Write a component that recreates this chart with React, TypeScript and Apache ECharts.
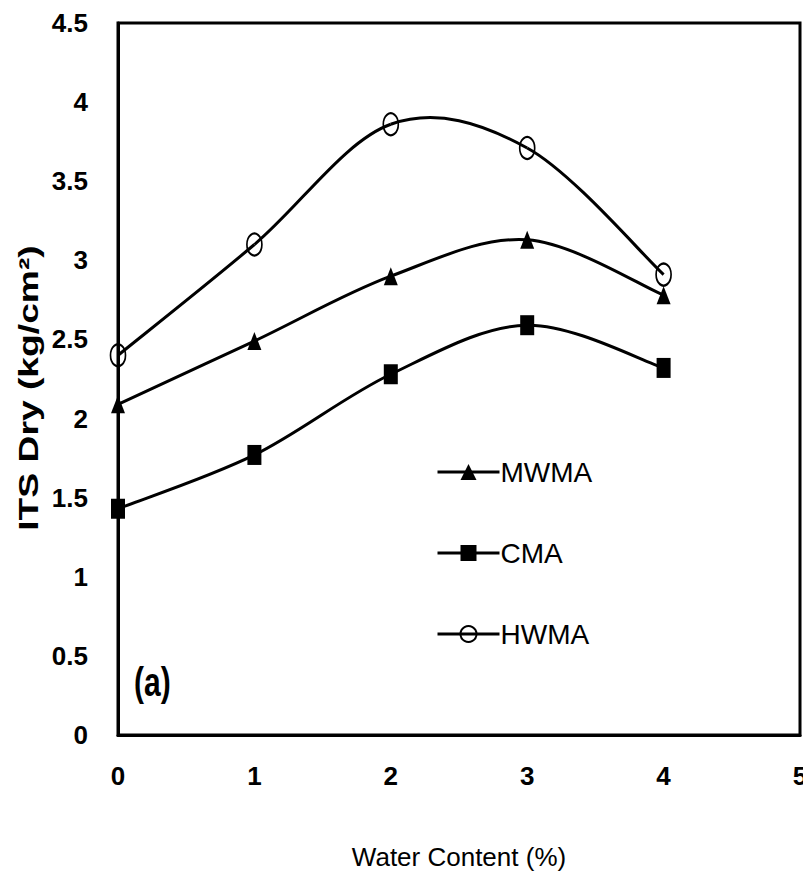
import React, { useEffect, useRef } from "react";
import * as echarts from "echarts";

const xValues = [0, 1, 2, 3, 4];
const mwma = [2.09, 2.49, 2.9, 3.13, 2.78];
const cma = [1.43, 1.77, 2.28, 2.59, 2.32];
const hwma = [2.4, 3.1, 3.86, 3.71, 2.91];
const seriesNames = ["MWMA", "CMA", "HWMA"];

const FONT = "'Liberation Sans Narrow', 'Liberation Sans', Arial, sans-serif";

export default function App() {
  const ref = useRef<HTMLDivElement>(null);
  useEffect(() => {
    if (!ref.current) return;
    const chart = echarts.init(ref.current, undefined, { renderer: "svg" });
    const pair = (arr: number[]) => xValues.map((x, i) => [x, arr[i]]);

    const curve = (name: string, arr: number[]) => ({
      name: name + " curve",
      type: "custom",
      z: 1,
      silent: true,
      data: pair(arr),
      encode: { x: 0, y: 1 },
      renderItem: (params: any, api: any) => {
        const i = params.dataIndex;
        const n = arr.length;
        if (i >= n - 1) return { type: "group", children: [] };
        const p = (k: number) => api.coord([xValues[k], arr[k]]);
        const P0 = p(Math.max(i - 1, 0));
        const P1 = p(i);
        const P2 = p(i + 1);
        const P3 = p(Math.min(i + 2, n - 1));
        const t = 1 / 6;
        return {
          type: "bezierCurve",
          shape: {
            x1: P1[0],
            y1: P1[1],
            cpx1: P1[0] + (P2[0] - P0[0]) * t,
            cpy1: P1[1] + (P2[1] - P0[1]) * t,
            cpx2: P2[0] - (P3[0] - P1[0]) * t,
            cpy2: P2[1] - (P3[1] - P1[1]) * t,
            x2: P2[0],
            y2: P2[1],
          },
          style: { stroke: "#000", lineWidth: 3, fill: "none" },
        };
      },
    });

    const hiddenLine = { color: "#000", width: 3, opacity: 0 };

    chart.setOption({
      animation: false,
      backgroundColor: "#fff",
      textStyle: { fontFamily: FONT },
      grid: {
        left: 118,
        right: 3,
        top: 23,
        bottom: 147,
        outerBoundsMode: "none",
        containLabel: false,
        show: true,
        borderColor: "#000",
        borderWidth: 3,
        backgroundColor: "transparent",
      },
      legend: {
        orient: "vertical",
        left: 431,
        top: 453,
        itemWidth: 62,
        itemHeight: 20,
        itemGap: 53,
        data: seriesNames,
        lineStyle: { width: 3, color: "#000", opacity: 1 },
        textStyle: { fontFamily: FONT, fontSize: 28, color: "#000", padding: [0, 0, 0, -4] },
      },
      xAxis: {
        type: "value",
        min: 0,
        max: 5,
        interval: 1,
        name: "Water Content (%)",
        nameLocation: "middle",
        nameGap: 109,
        nameTextStyle: { fontFamily: FONT, fontSize: 26, color: "#000" },
        axisLine: { show: true, lineStyle: { color: "#000", width: 3 } },
        axisTick: { show: false },
        splitLine: { show: false },
        axisLabel: { margin: 28, fontSize: 26, fontWeight: "bold", color: "#000", fontFamily: FONT },
      },
      yAxis: {
        type: "value",
        min: 0,
        max: 4.5,
        interval: 0.5,
        axisLine: { show: true, lineStyle: { color: "#000", width: 3 } },
        axisTick: { show: false },
        splitLine: { show: false },
        axisLabel: { margin: 30, fontSize: 26, fontWeight: "bold", color: "#000", fontFamily: FONT },
      },
      graphic: [
        {
          type: "text",
          x: 29,
          y: 388,
          rotation: Math.PI / 2,
          scaleX: 1.38,
          style: {
            text: "ITS Dry (kg/cm²)",
            fontFamily: FONT,
            fontSize: 27,
            fontWeight: "bold",
            fill: "#000",
            textAlign: "center",
            textVerticalAlign: "middle",
          },
        },
        {
          type: "text",
          x: 134,
          y: 662,
          scaleY: 1.35,
          style: {
            text: "(a)",
            fontFamily: FONT,
            fontSize: 30,
            fontWeight: "bold",
            fill: "#000",
            textVerticalAlign: "top",
          },
        },
      ],
      series: [
        curve("MWMA", mwma),
        curve("CMA", cma),
        curve("HWMA", hwma),
        {
          name: "MWMA",
          type: "line",
          z: 3,
          data: pair(mwma),
          symbol: "triangle",
          symbolSize: [14, 18],
          lineStyle: hiddenLine,
          itemStyle: { color: "#000" },
        },
        {
          name: "CMA",
          type: "line",
          z: 3,
          data: pair(cma),
          symbol: "rect",
          symbolSize: [14, 20],
          lineStyle: hiddenLine,
          itemStyle: { color: "#000" },
        },
        {
          name: "HWMA",
          type: "line",
          z: 3,
          data: pair(hwma),
          symbol: "circle",
          symbolSize: [15, 22],
          lineStyle: hiddenLine,
          itemStyle: { color: "rgba(255,255,255,0)", borderColor: "#000", borderWidth: 2 },
        },
      ],
    });
    return () => chart.dispose();
  }, []);
  return <div ref={ref} style={{ position: "absolute", left: 0, top: 0, width: 803, height: 882 }} />;
}
